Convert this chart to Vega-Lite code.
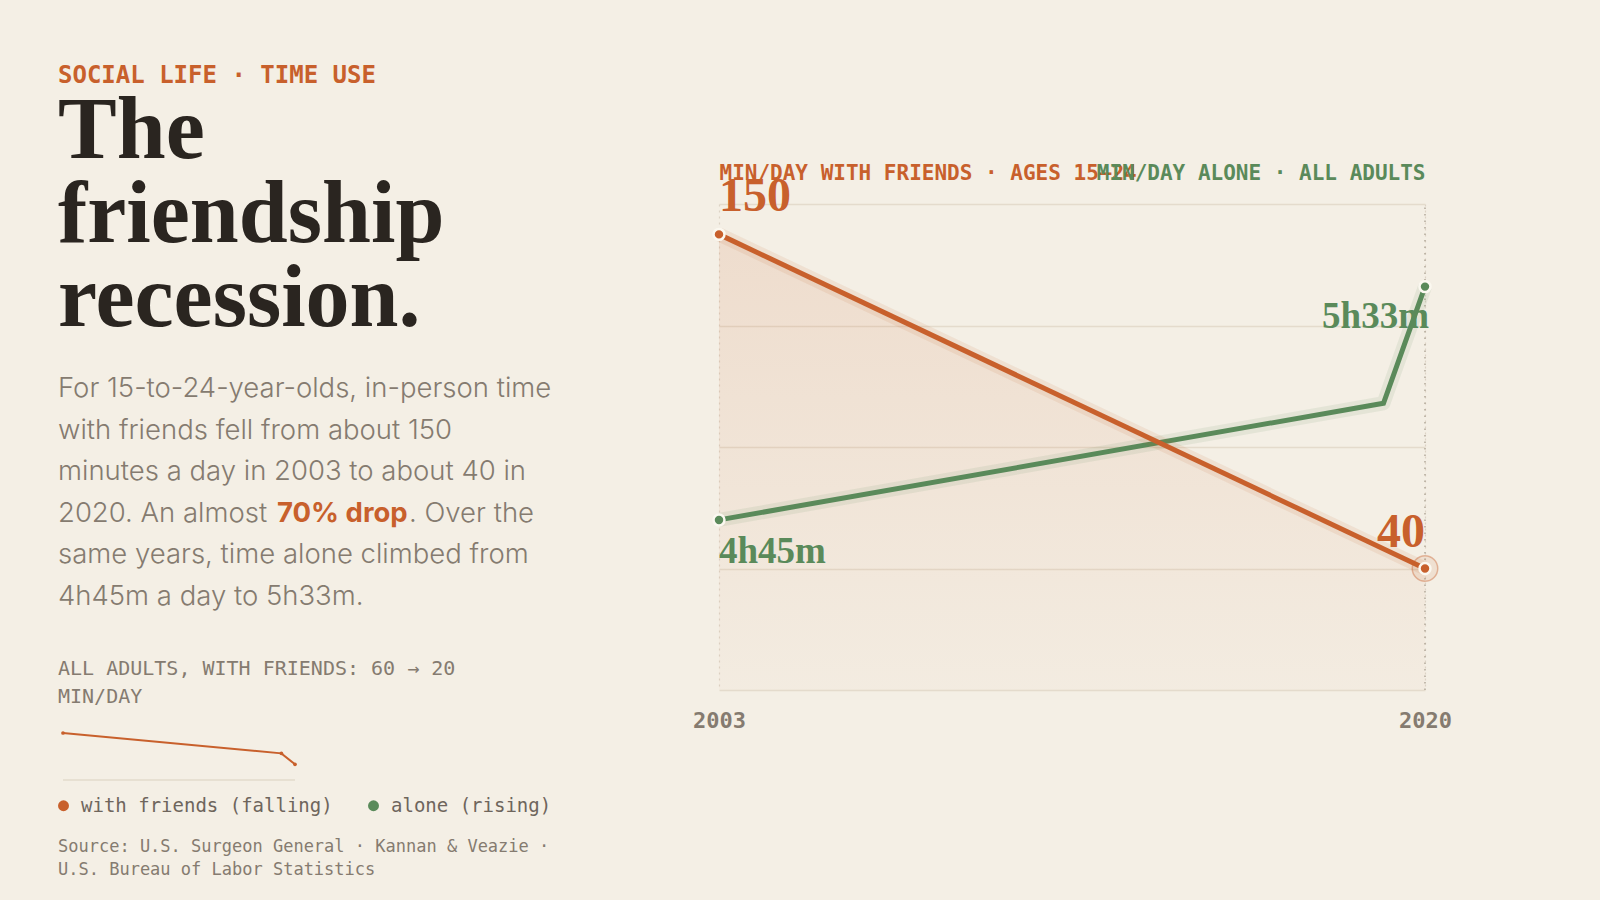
{
  "$schema": "https://vega.github.io/schema/vega-lite/v6.json",
  "background": "#f4efe5",
  "padding": {"left": 58, "top": 64, "right": 170, "bottom": 30},
  "config": {"view": {"stroke": null}, "font": "DejaVu Sans Mono"},
  "datasets": {
    "youth": [
      {"year": 2003, "friends": 150, "label": "150"},
      {"year": 2020, "friends": 40, "label": "40"}
    ],
    "alone": [
      {"year": 2003, "alone": 285, "label": "4h45m"},
      {"year": 2019, "alone": 309, "label": ""},
      {"year": 2020, "alone": 333, "label": "5h33m"}
    ],
    "adults": [
      {"year": 2003, "v": 60, "series": "with friends (falling)"},
      {"year": 2019, "v": 34, "series": "with friends (falling)"},
      {"year": 2020, "v": 20, "series": "with friends (falling)"}
    ]
  },
  "spacing": 93,
  "resolve": {"scale": {"color": "independent"}, "legend": {"color": "independent"}},
  "hconcat": [
    {
      "spacing": 22,
      "resolve": {"scale": {"color": "independent"}, "legend": {"color": "independent"}},
      "vconcat": [
        {
          "width": 540,
          "height": 265,
          "title": {"text": "SOCIAL LIFE · TIME USE", "anchor": "start", "frame": "group", "offset": 0, "font": "DejaVu Sans Mono", "fontSize": 24, "fontWeight": "bold", "color": "#c8602c"},
          "data": {"values": [{"t": "The\nfriendship\nrecession."}]},
          "mark": {"type": "text", "align": "left", "baseline": "top", "lineBreak": "\n", "font": "Liberation Serif", "fontWeight": "bold", "fontSize": 88, "lineHeight": 84, "color": "#2a2520"},
          "encoding": {
            "text": {"field": "t"},
            "x": {"datum": 0, "type": "quantitative", "scale": {"domain": [0, 1]}, "axis": null},
            "y": {"datum": 1, "type": "quantitative", "scale": {"domain": [0, 1]}, "axis": null}
          }
        },
        {
          "width": 540,
          "height": 262,
          "encoding": {
            "x": {"datum": 0, "type": "quantitative", "scale": {"domain": [0, 1]}, "axis": null},
            "y": {"datum": 1, "type": "quantitative", "scale": {"domain": [0, 1]}, "axis": null}
          },
          "layer": [
            {
              "data": {"values": [{"t": "For 15-to-24-year-olds, in-person time\nwith friends fell from about 150\nminutes a day in 2003 to about 40 in\n2020. An almost\nsame years, time alone climbed from\n4h45m a day to 5h33m."}]},
              "mark": {"type": "text", "align": "left", "baseline": "top", "lineBreak": "\n", "font": "Inter", "fontWeight": 300, "fontSize": 27.5, "lineHeight": 41.6, "color": "#857b70"},
              "encoding": {"text": {"field": "t"}}
            },
            {
              "data": {"values": [{"t": "70% drop"}]},
              "mark": {"type": "text", "align": "left", "baseline": "top", "font": "Inter", "fontWeight": "bold", "fontSize": 27.5, "color": "#c8602c", "dx": 219, "dy": 124.8},
              "encoding": {"text": {"field": "t"}}
            },
            {
              "data": {"values": [{"t": ". Over the"}]},
              "mark": {"type": "text", "align": "left", "baseline": "top", "font": "Inter", "fontWeight": 300, "fontSize": 27.5, "color": "#857b70", "dx": 351, "dy": 124.8},
              "encoding": {"text": {"field": "t"}}
            }
          ]
        },
        {
          "width": 540,
          "height": 46,
          "data": {"values": [{"t": "ALL ADULTS, WITH FRIENDS: 60 → 20\nMIN/DAY"}]},
          "mark": {"type": "text", "align": "left", "baseline": "top", "lineBreak": "\n", "font": "DejaVu Sans Mono", "fontSize": 20, "lineHeight": 27.5, "color": "#857b70"},
          "encoding": {
            "text": {"field": "t"},
            "x": {"datum": 0, "type": "quantitative", "scale": {"domain": [0, 1]}, "axis": null},
            "y": {"datum": 1, "type": "quantitative", "scale": {"domain": [0, 1]}, "axis": null}
          }
        },
        {
          "width": 242,
          "height": 47,
          "data": {"name": "adults"},
          "layer": [
            {
              "mark": {"type": "rule", "color": "#e6ddcf", "strokeWidth": 1.2},
              "encoding": {
                "x": {"datum": 2003, "type": "quantitative", "scale": {"domain": [2003, 2020], "padding": 5, "nice": false, "zero": false}, "axis": null},
                "x2": {"datum": 2020},
                "y": {"datum": 0, "type": "quantitative", "scale": {"domain": [0, 60], "nice": false}, "axis": null}
              }
            },
            {
              "mark": {"type": "line", "color": "#c8602c", "strokeWidth": 2},
              "encoding": {
                "x": {"field": "year", "type": "quantitative"},
                "y": {"field": "v", "type": "quantitative"}
              }
            },
            {
              "mark": {"type": "point", "filled": true, "size": 14, "opacity": 1},
              "encoding": {
                "x": {"field": "year", "type": "quantitative"},
                "y": {"field": "v", "type": "quantitative"},
                "color": {
                  "field": "series",
                  "type": "nominal",
                  "scale": {"domain": ["with friends (falling)", "alone (rising)"], "range": ["#c8602c", "#5a8a5a"]},
                  "legend": {"orient": "bottom", "direction": "horizontal", "title": null, "symbolType": "circle", "symbolSize": 120, "symbolOpacity": 1, "symbolStrokeWidth": 0, "symbolOffset": -4, "labelFont": "DejaVu Sans Mono", "labelFontSize": 19, "labelColor": "#6e655c", "labelOffset": 8, "columnPadding": 35, "offset": 16, "padding": 0, "labelLimit": 400}
                }
              }
            }
          ]
        },
        {
          "width": 540,
          "height": 50,
          "data": {"values": [{"t": "Source: U.S. Surgeon General · Kannan & Veazie ·\nU.S. Bureau of Labor Statistics"}]},
          "mark": {"type": "text", "align": "left", "baseline": "top", "lineBreak": "\n", "font": "DejaVu Sans Mono", "fontSize": 17, "lineHeight": 23, "color": "#857b70"},
          "encoding": {
            "text": {"field": "t"},
            "x": {"datum": 0, "type": "quantitative", "scale": {"domain": [0, 1]}, "axis": null},
            "y": {"datum": 1, "type": "quantitative", "scale": {"domain": [0, 1]}, "axis": null}
          }
        }
      ]
    },
    {
      "spacing": 0,
      "vconcat": [
        {
          "width": 10,
          "height": 74,
          "data": {"values": [{"t": ""}]},
          "mark": {"type": "text"},
          "encoding": {"text": {"field": "t"}}
        },
        {
          "width": 706,
          "height": 486,
          "resolve": {"scale": {"y": "independent"}},
          "layer": [
            {
              "data": {"name": "youth"},
              "mark": {"type": "area", "color": {"gradient": "linear", "x1": 0, "y1": 0, "x2": 0, "y2": 1, "stops": [{"offset": 0, "color": "rgba(200,96,44,0.13)"}, {"offset": 1, "color": "rgba(200,96,44,0.025)"}]}},
              "encoding": {
                "x": {"field": "year", "type": "quantitative", "scale": {"domain": [2003, 2020], "nice": false, "zero": false},
                  "axis": {"values": [2003, 2020], "format": "d", "title": null, "labelFont": "DejaVu Sans Mono", "labelFontWeight": "bold", "labelFontSize": 22, "labelColor": "#857b70", "labelPadding": 20, "labelFlush": false, "ticks": false, "tickSize": 0, "domain": false, "grid": true, "gridDash": [2, 4], "gridColor": "#dcd3c5", "gridWidth": 1.2}},
                "y": {"field": "friends", "type": "quantitative", "scale": {"domain": [0, 160], "nice": false},
                  "axis": {"orient": "left", "values": [0, 40, 80, 120, 160], "labels": false, "ticks": false, "domain": false, "grid": true, "gridColor": "#e4dbcc", "gridWidth": 1.3,
                    "title": "MIN/DAY WITH FRIENDS · AGES 15–24", "titleAngle": 0, "titleAlign": "left", "titleBaseline": "alphabetic", "titleX": 0, "titleY": -25, "titleFont": "DejaVu Sans Mono", "titleFontSize": 21, "titleFontWeight": "bold", "titleColor": "#c8602c"}}
              }
            },
            {
              "data": {"name": "youth"},
              "transform": [{"filter": "datum.year == 2020"}],
              "mark": {"type": "rule", "color": "#b3a99b", "strokeWidth": 1.5, "strokeDash": [1.5, 5]},
              "encoding": {
                "x": {"field": "year", "type": "quantitative"},
                "y": {"datum": 0, "type": "quantitative", "scale": {"domain": [0, 160], "nice": false}, "axis": null},
                "y2": {"datum": 160}
              }
            },
            {
              "data": {"name": "alone"},
              "encoding": {
                "x": {"field": "year", "type": "quantitative"},
                "y": {"field": "alone", "type": "quantitative", "scale": {"domain": [250, 350], "nice": false, "zero": false},
                  "axis": {"orient": "right", "labels": false, "ticks": false, "domain": false, "grid": false,
                    "title": "MIN/DAY ALONE · ALL ADULTS", "titleAngle": 0, "titleAlign": "right", "titleBaseline": "alphabetic", "titleX": 0, "titleY": -25, "titleFont": "DejaVu Sans Mono", "titleFontSize": 21, "titleFontWeight": "bold", "titleColor": "#5a8a5a"}}
              },
              "layer": [
                {"mark": {"type": "line", "color": "#5a8a5a", "strokeWidth": 14, "opacity": 0.1, "strokeJoin": "round"}},
                {"mark": {"type": "line", "color": "#5a8a5a", "strokeWidth": 5, "strokeJoin": "miter"}},
                {
                  "transform": [{"filter": "datum.year != 2019"}],
                  "mark": {"type": "point", "filled": true, "size": 120, "color": "#5a8a5a", "stroke": "#fbf8f0", "strokeWidth": 2.5, "opacity": 1}
                },
                {
                  "transform": [{"filter": "datum.year == 2003"}],
                  "mark": {"type": "text", "align": "left", "baseline": "alphabetic", "dy": 43, "font": "Liberation Serif", "fontWeight": "bold", "fontSize": 37, "color": "#5a8a5a"},
                  "encoding": {"text": {"field": "label"}}
                },
                {
                  "transform": [{"filter": "datum.year == 2020"}],
                  "mark": {"type": "text", "align": "right", "baseline": "alphabetic", "dx": 4, "dy": 41, "font": "Liberation Serif", "fontWeight": "bold", "fontSize": 37, "color": "#5a8a5a"},
                  "encoding": {"text": {"field": "label"}}
                }
              ]
            },
            {
              "data": {"name": "youth"},
              "encoding": {
                "x": {"field": "year", "type": "quantitative"},
                "y": {"field": "friends", "type": "quantitative", "scale": {"domain": [0, 160], "nice": false}, "axis": null}
              },
              "layer": [
                {"mark": {"type": "line", "color": "#c8602c", "strokeWidth": 14, "opacity": 0.1}},
                {"mark": {"type": "line", "color": "#c8602c", "strokeWidth": 5}},
                {
                  "transform": [{"filter": "datum.year == 2020"}],
                  "mark": {"type": "point", "filled": true, "size": 650, "color": "#c8602c", "fillOpacity": 0.1, "stroke": "#c8602c", "strokeOpacity": 0.4, "strokeWidth": 1.5}
                },
                {"mark": {"type": "point", "filled": true, "size": 120, "color": "#c8602c", "stroke": "#fbf8f0", "strokeWidth": 2.5, "opacity": 1}},
                {
                  "transform": [{"filter": "datum.year == 2003"}],
                  "mark": {"type": "text", "align": "left", "baseline": "alphabetic", "dy": -23, "font": "Liberation Serif", "fontWeight": "bold", "fontSize": 48, "color": "#c8602c"},
                  "encoding": {"text": {"field": "label"}}
                },
                {
                  "transform": [{"filter": "datum.year == 2020"}],
                  "mark": {"type": "text", "align": "right", "baseline": "alphabetic", "dy": -22, "font": "Liberation Serif", "fontWeight": "bold", "fontSize": 48, "color": "#c8602c"},
                  "encoding": {"text": {"field": "label"}}
                }
              ]
            }
          ]
        }
      ]
    }
  ]
}
